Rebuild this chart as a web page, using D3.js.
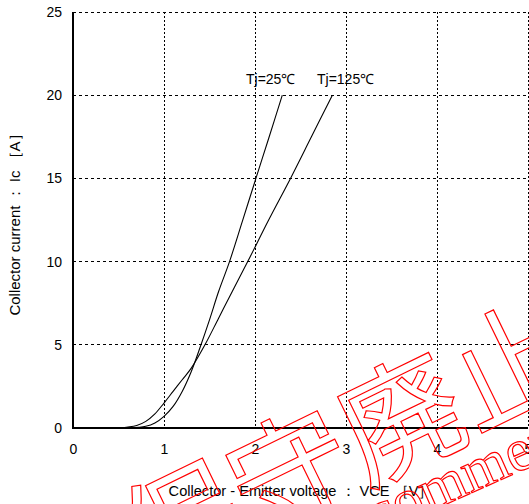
<!doctype html>
<html>
<head>
<script src="https://d3js.org/d3.v7.min.js"></script>
<style>
  body { margin: 0; background: #fff; }
</style>
</head>
<body>
<svg width="529" height="504" id="chart"></svg>
<script>
// data
var xTicks = [0, 1, 2, 3, 4, 5];
var yTicks = [0, 5, 10, 15, 20, 25];

var vce25 = [0.62, 0.8, 0.9, 1.0, 1.1, 1.2, 1.3, 1.4, 1.5, 1.6, 1.72, 1.86, 2.01, 2.15, 2.30];
var ic25  = [0, 0.1, 0.3, 0.7, 1.3, 2.2, 3.4, 4.9, 6.5, 8.2, 10, 12.4, 15, 17.4, 20];

var vce125 = [0.5, 0.7, 0.8, 0.9, 1.0, 1.1, 1.2, 1.3, 1.45, 1.6, 1.75, 1.92, 2.15, 2.39, 2.62, 2.85];
var ic125  = [0, 0.15, 0.4, 0.85, 1.5, 2.2, 2.9, 3.6, 5.0, 6.6, 8.2, 10, 12.5, 15, 17.5, 20];

var curveLabels = ["Tj=25\u2103", "Tj=125\u2103"];

var svg = d3.select("#chart");
var pLeft = 73, pRight = 528, pTop = 12, pBottom = 428;

var x = d3.scaleLinear().domain([0, 5]).range([pLeft, pRight]);
var y = d3.scaleLinear().domain([0, 25]).range([pBottom, pTop]);

var tickFont = "'Liberation Sans', Arial, sans-serif";

// grid
svg.append("g").selectAll("line")
  .data(yTicks.slice(1))
  .enter().append("line")
  .attr("x1", pLeft).attr("x2", pRight)
  .attr("y1", function (d) { return y(d); })
  .attr("y2", function (d) { return y(d); })
  .attr("stroke", "#000").attr("stroke-width", 1)
  .attr("stroke-dasharray", "3,3")
  .attr("shape-rendering", "crispEdges");

svg.append("g").selectAll("line")
  .data(xTicks.slice(1))
  .enter().append("line")
  .attr("y1", pTop).attr("y2", pBottom)
  .attr("x1", function (d) { return x(d); })
  .attr("x2", function (d) { return x(d); })
  .attr("stroke", "#000").attr("stroke-width", 1)
  .attr("stroke-dasharray", "2,2")
  .attr("shape-rendering", "crispEdges");

// left + bottom frame
svg.append("path")
  .attr("d", "M" + pLeft + "," + pTop + "V" + pBottom + "H" + pRight)
  .attr("fill", "none").attr("stroke", "#000").attr("stroke-width", 1.5)
  .attr("shape-rendering", "crispEdges");

// axes
var gx = svg.append("g")
  .attr("transform", "translate(0," + pBottom + ")")
  .call(d3.axisBottom(x).tickValues(xTicks).tickSize(0).tickPadding(16).tickFormat(d3.format("d")));
var gy = svg.append("g")
  .attr("transform", "translate(" + pLeft + ",0)")
  .call(d3.axisLeft(y).tickValues(yTicks).tickSize(0).tickPadding(11).tickFormat(d3.format("d")));
[gx, gy].forEach(function (g) {
  g.select(".domain").remove();
  g.selectAll("text").attr("fill", "#000")
    .style("font-family", tickFont).style("font-size", "14px");
});
gx.selectAll(".tick").filter(function (d) { return d === 5; })
  .select("text").attr("text-anchor", "start").attr("x", -4);

// curves
var line = d3.line()
  .x(function (d) { return x(d[0]); })
  .y(function (d) { return y(d[1]); })
  .curve(d3.curveCatmullRom.alpha(0.5));

[[vce25, ic25], [vce125, ic125]].forEach(function (s) {
  svg.append("path")
    .datum(d3.zip(s[0], s[1]))
    .attr("d", line)
    .attr("fill", "none")
    .attr("stroke", "#000")
    .attr("stroke-width", 1.1);
});

// curve labels
svg.append("text")
  .attr("x", 246).attr("y", 84)
  .style("font-family", tickFont).style("font-size", "14px")
  .text(curveLabels[0]);
svg.append("text")
  .attr("x", 317).attr("y", 84)
  .style("font-family", tickFont).style("font-size", "14px")
  .text(curveLabels[1]);

// axis titles
svg.append("text")
  .attr("x", 301).attr("y", 496)
  .attr("text-anchor", "middle")
  .style("font-family", tickFont).style("font-size", "14.6px")
  .text("Collector - Emitter voltage \uFF1A VCE \uFF3BV\uFF3D");

svg.append("text")
  .attr("text-anchor", "middle")
  .attr("transform", "translate(20,221)rotate(-90)")
  .style("font-family", tickFont).style("font-size", "15px")
  .text("Collector current \uFF1A Ic \uFF3BA\uFF3D");

// red outlined stamp over the chart
svg.append("text")
  .attr("text-anchor", "middle")
  .attr("dominant-baseline", "central")
  .attr("transform", "translate(342,438)rotate(-26)")
  .style("font-family", "'Noto Sans CJK JP', sans-serif")
  .style("font-size", "122px")
  .attr("fill", "none").attr("stroke", "#ff0000").attr("stroke-width", 1.2)
  .text("保守廃止");

svg.append("text")
  .attr("transform", "translate(238,597)rotate(-24)")
  .style("font-family", "'Liberation Serif', serif")
  .style("font-size", "60px")
  .attr("fill", "none").attr("stroke", "#ff0000").attr("stroke-width", 1.2)
  .text("Not recommended");
</script>
</body>
</html>
